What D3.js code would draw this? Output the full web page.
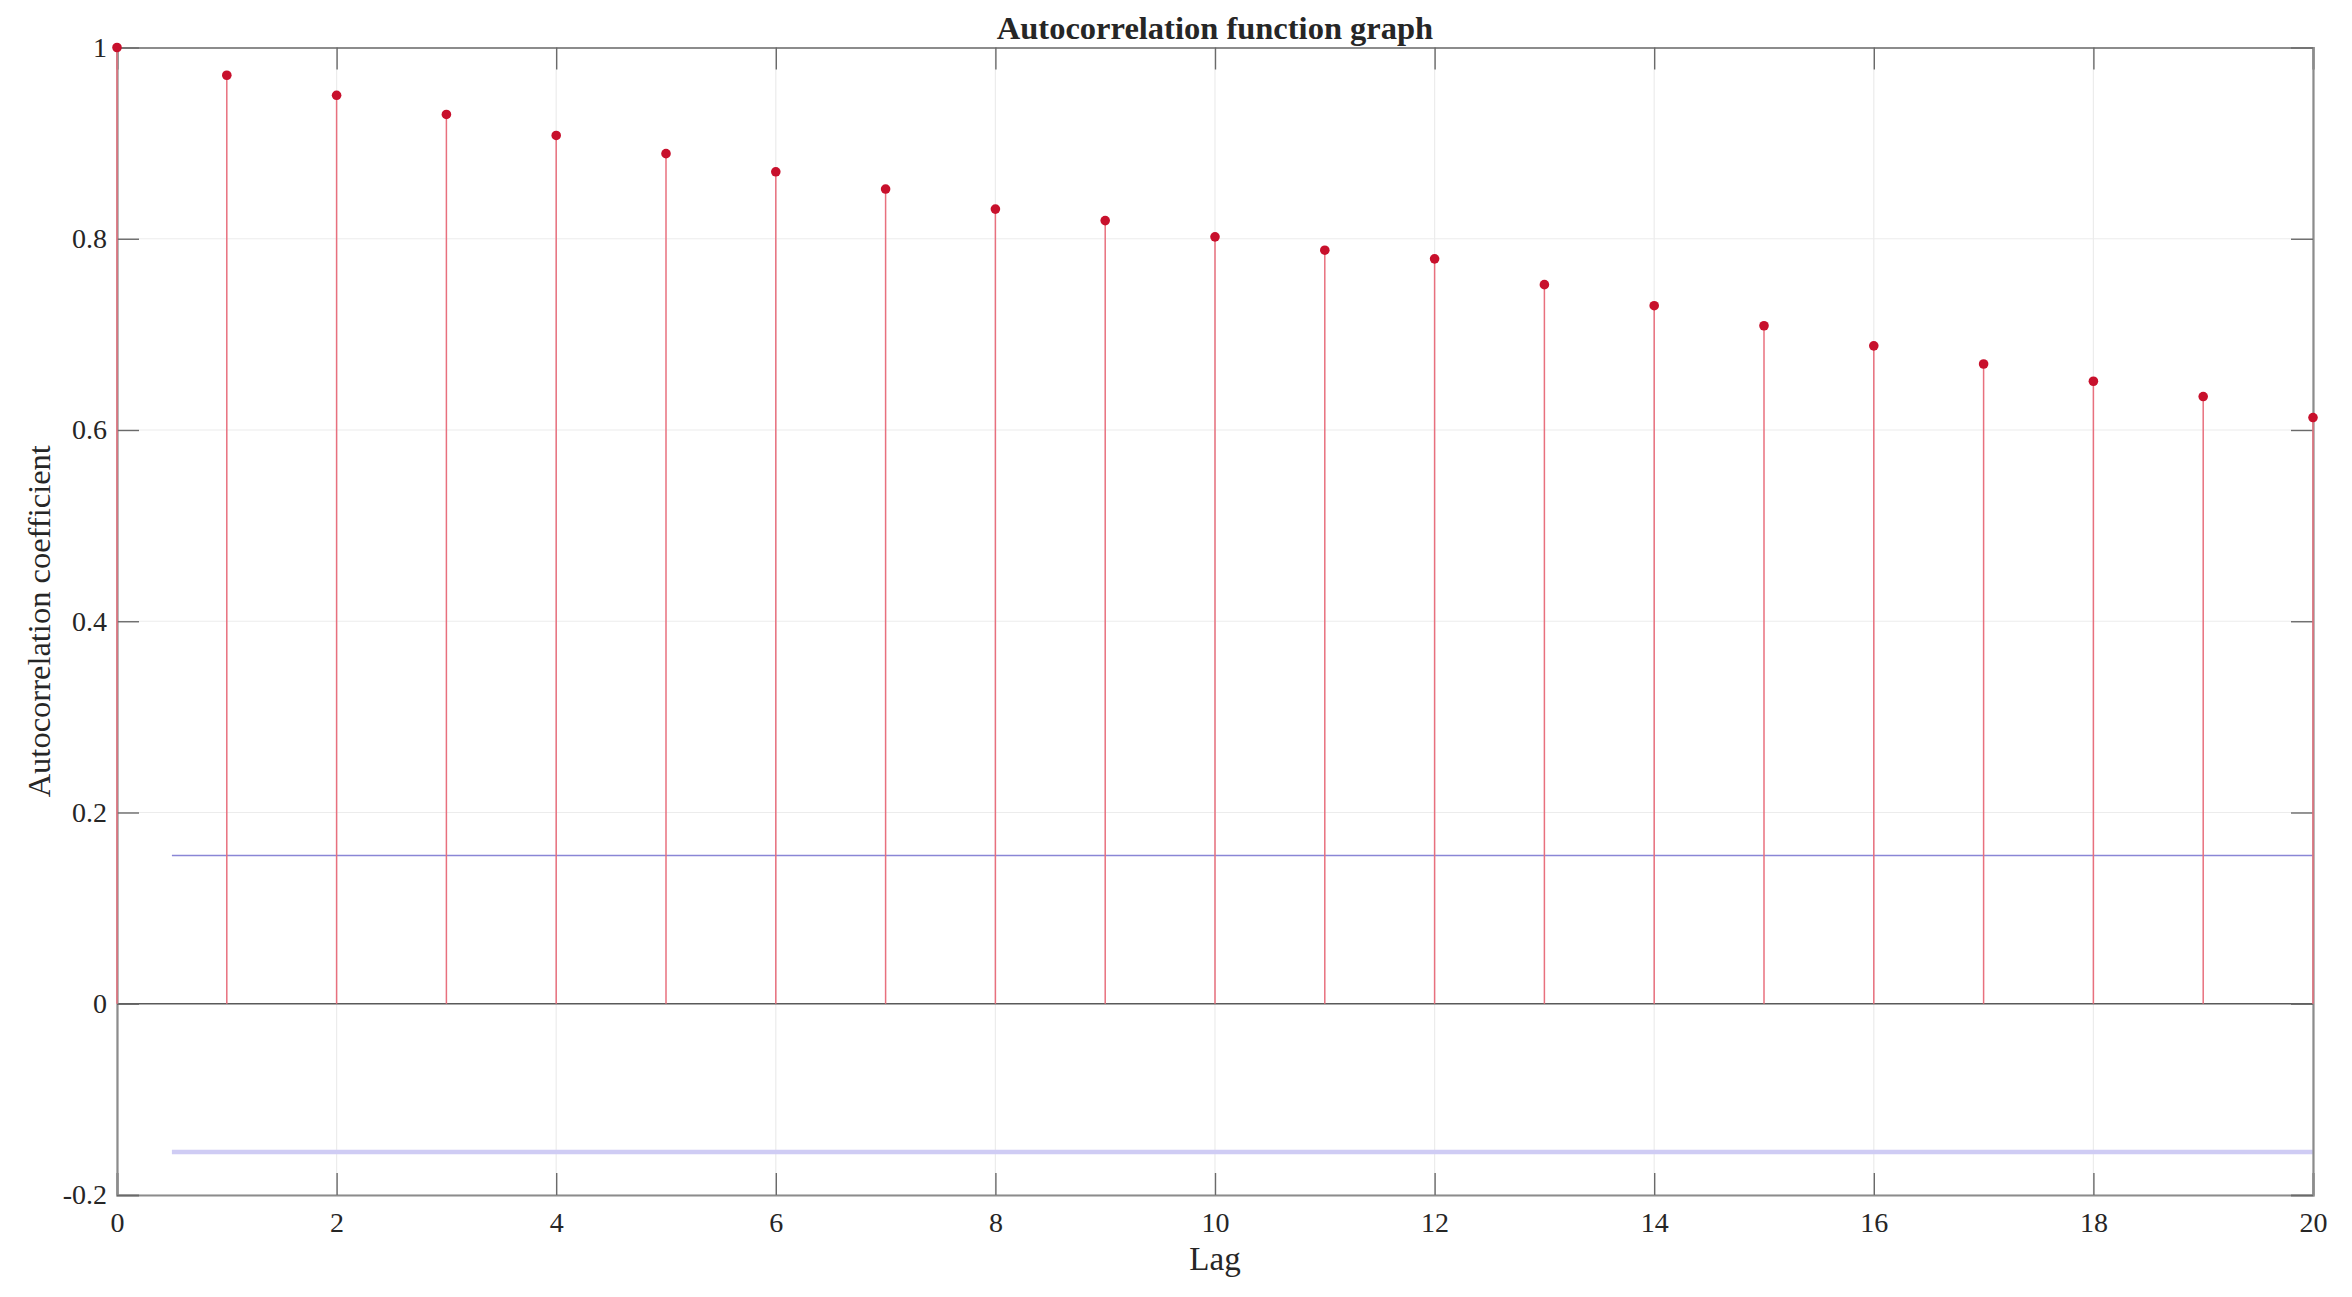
<!DOCTYPE html>
<html>
<head>
<meta charset="utf-8">
<script src="https://cdn.jsdelivr.net/npm/d3@7"></script>
<style>
  html, body { margin: 0; padding: 0; background: #fff; }
  svg { display: block; }
  text { font-family: "Liberation Serif", "Times New Roman", serif; fill: #262626; }
</style>
</head>
<body>
<script>
// ---- data ----
const lags = [0,1,2,3,4,5,6,7,8,9,10,11,12,13,14,15,16,17,18,19,20];
const acf = [1.000, 0.971, 0.950, 0.930, 0.908, 0.889, 0.870, 0.852, 0.831, 0.819, 0.802,
             0.788, 0.779, 0.752, 0.730, 0.709, 0.688, 0.669, 0.651, 0.635, 0.613];
const upperBound = 0.155;
const lowerBound = -0.155;
const boundStart = 0.5;
const xTicks = [0,2,4,6,8,10,12,14,16,18,20];
const xTickLabels = ["0","2","4","6","8","10","12","14","16","18","20"];
const yTicks = [-0.2,0,0.2,0.4,0.6,0.8,1];
const yTickLabels = ["-0.2","0","0.2","0.4","0.6","0.8","1"];
const titleText = "Autocorrelation function graph";
const xLabel = "Lag";
const yLabel = "Autocorrelation coefficient";

(function () {
// ---- layout ----
const W = 2352, H = 1297;
const pL = 117, pR = 2313, pT = 47.5, pB = 1195;

const svg = d3.select("body").append("svg").attr("width", W).attr("height", H);

const x = d3.scaleLinear().domain([0, 20]).range([pL, pR]);
const y = d3.scaleLinear().domain([-0.2, 1]).range([pB, pT]);

// grid
const grid = svg.append("g");
grid.selectAll("line.vg").data(xTicks).join("line")
  .attr("x1", d => x(d)).attr("x2", d => x(d)).attr("y1", pT).attr("y2", pB)
  .attr("stroke", "#ececec").attr("stroke-width", 1.2);
grid.selectAll("line.hg").data(yTicks).join("line")
  .attr("x1", pL).attr("x2", pR).attr("y1", d => y(d)).attr("y2", d => y(d))
  .attr("stroke", "#ececec").attr("stroke-width", 1.2);

// confidence bounds
svg.append("line")
  .attr("x1", x(boundStart)).attr("x2", x(20)).attr("y1", y(upperBound)).attr("y2", y(upperBound))
  .attr("stroke", "#8a86d6").attr("stroke-width", 1.6);
svg.append("line")
  .attr("x1", x(boundStart)).attr("x2", x(20)).attr("y1", y(lowerBound)).attr("y2", y(lowerBound))
  .attr("stroke", "#cfccf4").attr("stroke-width", 4.5);

// zero line
svg.append("line")
  .attr("x1", x(0)).attr("x2", x(20)).attr("y1", y(0)).attr("y2", y(0))
  .attr("stroke", "#5a5a5a").attr("stroke-width", 1.6);

// axes (inward ticks)
const tickLen = 22;
const fmtX = d => xTickLabels[xTicks.indexOf(d)];
const fmtY = d => yTickLabels[yTicks.findIndex(t => Math.abs(t - d) < 1e-9)];

const gx = svg.append("g").attr("transform", `translate(0,${pB})`)
  .call(d3.axisBottom(x).tickValues(xTicks).tickFormat(fmtX).tickSize(-tickLen).tickPadding(17));
const gxt = svg.append("g").attr("transform", `translate(0,${pT})`)
  .call(d3.axisTop(x).tickValues(xTicks).tickFormat("").tickSize(-tickLen));
const gy = svg.append("g").attr("transform", `translate(${pL},0)`)
  .call(d3.axisLeft(y).tickValues(yTicks).tickFormat(fmtY).tickSize(-tickLen).tickPadding(10));
const gyr = svg.append("g").attr("transform", `translate(${pR},0)`)
  .call(d3.axisRight(y).tickValues(yTicks).tickFormat("").tickSize(-tickLen));

[gx, gxt, gy, gyr].forEach(g => {
  g.select(".domain").attr("stroke", "#8c8c8c").attr("stroke-width", 2.2);
  g.selectAll(".tick line").attr("stroke", "#6a6a6a").attr("stroke-width", 1.4);
  g.selectAll(".tick text").attr("font-family", "Liberation Serif").attr("font-size", 28).attr("fill", "#262626");
});

// stems
svg.append("g").selectAll("line").data(lags).join("line")
  .attr("x1", d => x(d)).attr("x2", d => x(d))
  .attr("y1", y(0)).attr("y2", (d, i) => y(acf[i]))
  .attr("stroke", "#e8707e").attr("stroke-width", 1.5);

// markers
svg.append("g").selectAll("circle").data(lags).join("circle")
  .attr("cx", d => x(d)).attr("cy", (d, i) => y(acf[i]))
  .attr("r", 4.8).attr("fill", "#c8102c");

// title & labels
svg.append("text").attr("x", (pL + pR) / 2).attr("y", 39)
  .attr("text-anchor", "middle").attr("font-size", 32.5).attr("font-weight", "bold")
  .attr("fill", "#111").text(titleText);
svg.append("text").attr("x", x(10)).attr("y", 1270)
  .attr("text-anchor", "middle").attr("font-size", 33).text(xLabel);
svg.append("text").attr("transform", `translate(50,${(pT + pB) / 2}) rotate(-90)`)
  .attr("text-anchor", "middle").attr("font-size", 32.5).text(yLabel);
})();
</script>
</body>
</html>
